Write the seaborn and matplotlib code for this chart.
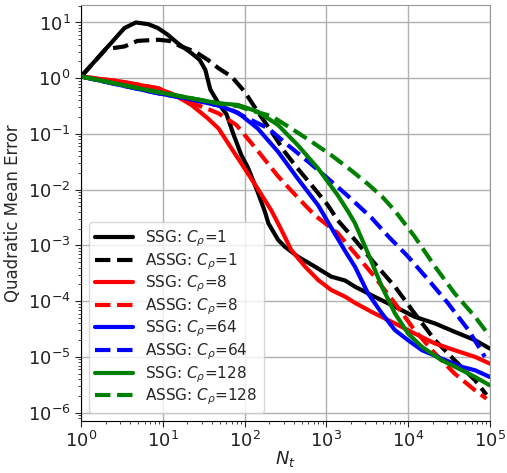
import numpy as np
import pandas as pd
import matplotlib
matplotlib.use("Agg")
import matplotlib.pyplot as plt
import matplotlib.ticker as mticker
import seaborn as sns

ssg1_x = [0.0, 0.53, 0.67, 0.82, 0.94, 1.06, 1.18, 1.35, 1.45, 1.52, 1.58, 1.68, 1.78, 1.86, 1.96, 2.04, 2.16, 2.25, 2.29, 2.41, 2.49, 2.65, 2.86, 3.06, 3.23, 3.35, 3.59, 3.84, 4.08, 4.33, 4.57, 4.82, 5.0]
ssg1_y = [0.03, 0.90, 1.0, 0.97, 0.90, 0.78, 0.63, 0.45, 0.33, 0.15, -0.2, -0.45, -0.65, -0.99, -1.38, -1.60, -2.04, -2.40, -2.6, -2.9, -3.02, -3.2, -3.38, -3.56, -3.63, -3.74, -3.92, -4.1, -4.28, -4.40, -4.55, -4.70, -4.85]

assg1_x = [0.0, 0.3, 0.39, 0.53, 0.69, 0.94, 1.08, 1.22, 1.39, 1.55, 1.68, 1.84, 2.0, 2.16, 2.33, 2.49, 2.65, 2.82, 3.02, 3.14, 3.35, 3.59, 3.84, 4.08, 4.33, 4.57, 4.82, 4.96]
assg1_y = [0.03, 0.52, 0.54, 0.57, 0.67, 0.69, 0.67, 0.57, 0.48, 0.33, 0.18, 0.03, -0.24, -0.6, -0.96, -1.32, -1.62, -1.92, -2.28, -2.55, -2.9, -3.32, -3.74, -4.22, -4.7, -5.06, -5.42, -5.68]

ssg8_x = [0.0, 0.49, 0.94, 1.14, 1.35, 1.55, 1.68, 1.84, 2.0, 2.16, 2.33, 2.45, 2.57, 2.74, 2.90, 3.06, 3.23, 3.35, 3.59, 3.84, 4.08, 4.33, 4.57, 4.82, 5.0]
ssg8_y = [0.03, -0.06, -0.18, -0.3, -0.48, -0.72, -0.9, -1.26, -1.62, -1.98, -2.38, -2.72, -3.08, -3.38, -3.62, -3.80, -3.92, -4.03, -4.22, -4.40, -4.58, -4.76, -4.88, -5.0, -5.12]

assg8_x = [0.0, 0.49, 0.94, 1.14, 1.35, 1.58, 1.68, 1.90, 2.16, 2.41, 2.65, 2.86, 3.14, 3.35, 3.59, 3.84, 4.08, 4.33, 4.57, 4.82, 4.96]
assg8_y = [0.03, -0.06, -0.18, -0.3, -0.44, -0.57, -0.63, -0.84, -1.3, -1.76, -2.14, -2.46, -2.78, -3.14, -3.56, -4.04, -4.52, -4.94, -5.3, -5.6, -5.75]

ssg64_x = [0.0, 0.5, 0.94, 1.35, 1.68, 1.92, 2.16, 2.41, 2.65, 2.90, 3.10, 3.23, 3.35, 3.51, 3.68, 3.84, 4.0, 4.17, 4.41, 4.66, 4.82, 5.0]
ssg64_y = [0.03, -0.13, -0.27, -0.38, -0.49, -0.62, -0.9, -1.32, -1.8, -2.28, -2.78, -3.1, -3.38, -3.86, -4.22, -4.52, -4.70, -4.88, -5.03, -5.18, -5.24, -5.36]

assg64_x = [0.0, 0.5, 0.94, 1.35, 1.68, 1.80, 2.04, 2.29, 2.53, 2.78, 3.02, 3.27, 3.55, 3.76, 4.0, 4.25, 4.49, 4.74, 4.94]
assg64_y = [0.03, -0.13, -0.27, -0.38, -0.49, -0.54, -0.72, -0.9, -1.2, -1.5, -1.8, -2.12, -2.50, -2.84, -3.2, -3.62, -4.04, -4.52, -5.0]

ssg128_x = [0.0, 0.5, 0.94, 1.35, 1.68, 1.92, 2.16, 2.41, 2.65, 2.90, 3.14, 3.27, 3.35, 3.51, 3.68, 3.84, 4.0, 4.17, 4.41, 4.66, 4.82, 5.0]
ssg128_y = [0.03, -0.12, -0.25, -0.36, -0.45, -0.48, -0.6, -0.84, -1.2, -1.62, -2.1, -2.40, -2.6, -3.14, -3.74, -4.22, -4.58, -4.82, -5.06, -5.24, -5.36, -5.51]

assg128_x = [0.0, 0.5, 0.94, 1.35, 1.68, 1.92, 2.08, 2.33, 2.57, 2.82, 3.06, 3.31, 3.51, 3.68, 3.84, 4.08, 4.33, 4.57, 4.82, 5.0]
assg128_y = [0.03, -0.12, -0.25, -0.36, -0.45, -0.5, -0.58, -0.68, -0.9, -1.14, -1.38, -1.66, -1.9, -2.12, -2.38, -2.84, -3.38, -3.86, -4.28, -4.63]

series = [
    ("SSG: $C_\\rho$=1", ssg1_x, ssg1_y, "black", "-"),
    ("ASSG: $C_\\rho$=1", assg1_x, assg1_y, "black", "--"),
    ("SSG: $C_\\rho$=8", ssg8_x, ssg8_y, "red", "-"),
    ("ASSG: $C_\\rho$=8", assg8_x, assg8_y, "red", "--"),
    ("SSG: $C_\\rho$=64", ssg64_x, ssg64_y, "blue", "-"),
    ("ASSG: $C_\\rho$=64", assg64_x, assg64_y, "blue", "--"),
    ("SSG: $C_\\rho$=128", ssg128_x, ssg128_y, "green", "-"),
    ("ASSG: $C_\\rho$=128", assg128_x, assg128_y, "green", "--"),
]

sns.set_style("whitegrid")
plt.rcParams['font.family'] = ['DejaVu Sans']

fig = plt.figure(figsize=(5.07, 4.73), dpi=100)
ax = fig.add_axes([0.16, 0.11, 0.806, 0.879])

for label, xs, ys, col, ls in series:
    df = pd.DataFrame({"N": 10 ** np.array(xs), "err": 10 ** np.array(ys)})
    sns.lineplot(data=df, x="N", y="err", color=col, linestyle=ls, linewidth=3,
                 label=label, ax=ax, sort=False)

ax.set_xscale("log")
ax.set_yscale("log")
ax.set_xlim(1, 1e5)
ax.set_ylim(10 ** -6.15, 10 ** 1.31)
ax.yaxis.set_major_locator(mticker.FixedLocator([1e-6, 1e-5, 1e-4, 1e-3, 1e-2, 1e-1, 1e0, 1e1]))
ax.xaxis.set_major_locator(mticker.FixedLocator([1e0, 1e1, 1e2, 1e3, 1e4, 1e5]))
ax.xaxis.set_minor_formatter(mticker.NullFormatter())
ax.yaxis.set_minor_formatter(mticker.NullFormatter())
ax.grid(True, which="major", color="#b0b0b0", linewidth=1)
ax.grid(False, which="minor")
for s in ["left", "bottom"]:
    ax.spines[s].set_color("black")
for s in ["top", "right"]:
    ax.spines[s].set_color("#999999")
ax.tick_params(which="both", direction="out", left=True, bottom=True, colors="#222222")
ax.tick_params(which="major", length=4, labelsize=13)
ax.tick_params(which="minor", length=2)
ax.set_xlabel("$N_t$", fontsize=13, labelpad=-2)
ax.set_ylabel("Quadratic Mean Error", fontsize=12)
ax.legend(loc="lower left", fontsize=11, labelspacing=0.13, handlelength=2.5)

fig.savefig("out.png", dpi=100)
